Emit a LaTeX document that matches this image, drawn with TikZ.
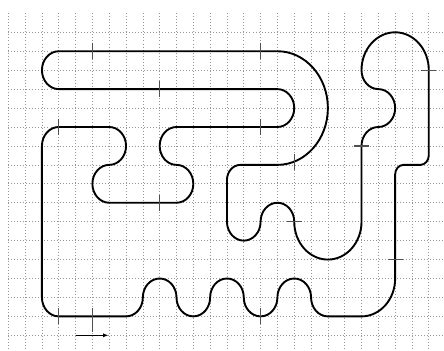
\documentclass[tikz,border=0pt]{standalone}
\usepackage{tikz}
\usetikzlibrary{arrows.meta}
\usepackage{xcolor}
\definecolor{gridgray}{HTML}{979797}
\definecolor{tickgray}{HTML}{505050}

\begin{document}
\begin{tikzpicture}[
  x=0.5cm,
  y=0.563cm,
  >={Latex[length=4.5pt,width=3.4pt]},
  gridline/.style={
    draw=gridgray,
    dotted,
    line width=0.55pt
  },
  track/.style={
    draw=black,
    line width=1.6pt,
    line join=round
  },
  tickmark/.style={
    draw=tickgray,
    line width=1pt
  },
  runarrow/.style={
    ->,
    line width=0.7pt,
    draw=black
  }
]
  \useasboundingbox (-0.4935,0.7054) rectangle (25.904,-17.827);

  % --- GRID ---
  \foreach \gx in {0,...,25}
    \draw[gridline] (\gx,0) -- (\gx,-17.827);
  \foreach \gy in {1,...,17}
    \draw[gridline] (0,-\gy) -- (25.904,-\gy);

  % --- TRACK (one closed loop) ---
  \draw[track]
    (3,-2) -- (16,-2)
    arc[start angle=90, end angle=-90, radius=3]
    -- (13.8,-8)
    arc[start angle=90, end angle=180, radius=0.8]
    -- (13,-11)
    arc[start angle=180, end angle=360, radius=1]
    arc[start angle=180, end angle=0, radius=1]
    arc[start angle=180, end angle=360, radius=2]
    -- (21,-7)
    arc[start angle=180, end angle=90, radius=1]
    arc[start angle=-90, end angle=90, radius=1]
    arc[start angle=270, end angle=180, radius=1]
    arc[start angle=180, end angle=0, radius=2]
    -- (25,-7.5)
    arc[start angle=0, end angle=-90, radius=0.5]
    -- (23.5,-8)
    arc[start angle=90, end angle=180, radius=0.5]
    -- (23,-14)
    arc[start angle=0, end angle=-90, radius=2]
    -- (19,-16)
    arc[start angle=270, end angle=180, radius=1]
    % bumps along the bottom
    arc[start angle=0, end angle=180, radius=1]
    arc[start angle=0, end angle=-180, radius=1]
    arc[start angle=0, end angle=180, radius=1]
    arc[start angle=0, end angle=-180, radius=1]
    arc[start angle=0, end angle=180, radius=1]
    arc[start angle=0, end angle=-90, radius=1]
    -- (3,-16)
    arc[start angle=270, end angle=180, radius=1]
    -- (2,-7)
    arc[start angle=180, end angle=90, radius=1]
    -- (6,-6)
    arc[start angle=90, end angle=-90, radius=1]
    arc[start angle=90, end angle=270, radius=1]
    -- (10,-10)
    arc[start angle=-90, end angle=90, radius=1]
    arc[start angle=270, end angle=90, radius=1]
    -- (16,-6)
    arc[start angle=-90, end angle=90, radius=1]
    -- (3,-4)
    arc[start angle=270, end angle=90, radius=1]
    -- cycle;

  % --- TICKS ---
  \foreach \tx/\ty in {5/-2, 15/-2, 9/-4, 3/-6, 15/-6, 17/-7.83, 9/-10, 3/-16, 15/-16}
    \draw[tickmark] ([yshift=0.24cm]\tx,\ty) -- ([yshift=-0.24cm]\tx,\ty);
  \draw[tickmark] ([yshift=0.24cm]5,-16) -- ([yshift=-0.46cm]5,-16);
  \foreach \tx/\ty in {25/-3, 21/-7, 17/-11, 23/-13}
    \draw[tickmark] ([xshift=-0.22cm]\tx,\ty) -- ([xshift=0.22cm]\tx,\ty);

  % Direction arrow
  \coordinate (arrowtail) at (4,-17);
  \coordinate (arrowhead) at (5.95,-17);
  \draw[runarrow] (arrowtail) -- (arrowhead);

\end{tikzpicture}
\end{document}
